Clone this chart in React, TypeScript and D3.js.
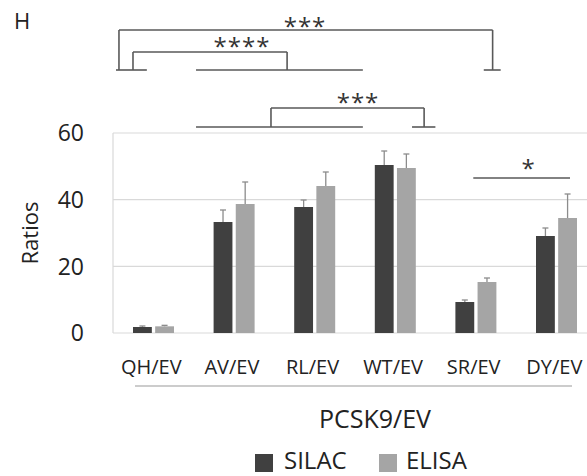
import React from "react";
import * as d3 from "d3";

const categories = ["QH/EV", "AV/EV", "RL/EV", "WT/EV", "SR/EV", "DY/EV"];
const series = ["SILAC", "ELISA"];
const silacValues = [1.8, 33.3, 37.8, 50.4, 9.3, 29.1];
const silacErrors = [0.3, 3.6, 2.1, 4.2, 0.6, 2.4];
const elisaValues = [2.0, 38.7, 44.1, 49.5, 15.3, 34.5];
const elisaErrors = [0.3, 6.6, 4.2, 4.2, 1.2, 7.2];
const yTicks = [0, 20, 40, 60];

const W = 587;
const H = 476;
const left = 113;
const step = 80.6;
const y0 = 333;
const top60 = 133;

export default function App() {
  const x = d3.scaleBand<string>().domain(categories).range([left, left + step * categories.length]).padding(0);
  const xs = d3.scaleBand<string>().domain(series).range([20, 61]).paddingInner(0.15);
  const y = d3.scaleLinear().domain([0, 60]).range([y0, top60]);
  const xi = d3.scaleLinear().domain([0, categories.length]).range([left, left + step * categories.length]);
  const colors: Record<string, string> = { SILAC: "#404040", ELISA: "#a5a5a5" };
  const vals: Record<string, number[]> = { SILAC: silacValues, ELISA: elisaValues };
  const errs: Record<string, number[]> = { SILAC: silacErrors, ELISA: elisaErrors };
  const font = "'Open Sans', 'Liberation Sans', sans-serif";
  const lc = "#595959";
  const sw = 1.6;

  const L = (x1: number, y1: number, x2: number, y2: number, k: string) => (
    <line key={k} x1={xi(x1)} y1={y(y1)} x2={xi(x2)} y2={y(y2)} stroke={lc} strokeWidth={sw} />
  );

  return (
    <svg width={W} height={H} style={{ position: "absolute", left: 0, top: 0, background: "#fff" }} fontFamily={font}>
      <rect width={W} height={H} fill="#fff" />
      <text x={14} y={29} fontSize={22} fill="#222">H</text>
      {/* gridlines */}
      {yTicks.map((t) => (
        <line key={t} x1={left} x2={W} y1={y(t)} y2={y(t)} stroke="#d9d9d9" strokeWidth={1.2} />
      ))}
      <line x1={left} x2={left} y1={y(60)} y2={y(0)} stroke="#d9d9d9" strokeWidth={1.2} />
      {yTicks.map((t) => (
        <text key={"t" + t} x={84} y={y(t)} dy="0.36em" textAnchor="end" fontSize={23} fill="#222">{t}</text>
      ))}
      <text transform={`translate(38,${y(30)}) rotate(-90)`} textAnchor="middle" fontSize={22} fill="#222">Ratios</text>
      {/* bars */}
      {categories.map((c, i) =>
        series.map((s) => {
          const bx = (x(c) as number) + (xs(s) as number);
          const bw = xs.bandwidth();
          const v = vals[s][i];
          const e = errs[s][i];
          const cx = bx + bw / 2;
          return (
            <g key={c + s}>
              <line x1={cx} x2={cx} y1={y(v)} y2={y(v + e)} stroke="#8c8c8c" strokeWidth={1.3} />
              <line x1={cx - 3} x2={cx + 3} y1={y(v + e)} y2={y(v + e)} stroke="#8c8c8c" strokeWidth={1.3} />
              <rect x={bx} y={y(v)} width={bw} height={y(0) - y(v)} fill={colors[s]} />
            </g>
          );
        })
      )}
      {/* category labels */}
      {categories.map((c) => (
        <text key={"c" + c} x={(x(c) as number) + x.bandwidth() / 2 - 2} y={367} dy="0.35em" textAnchor="middle" fontSize={20} fill="#222">{c}</text>
      ))}
      <line x1={135} x2={572} y1={386} y2={386} stroke="#999" strokeWidth={1.2} />
      <text x={375} y={419} dy="0.35em" textAnchor="middle" fontSize={25} fill="#222">PCSK9/EV</text>
      {/* legend */}
      <rect x={255} y={454} width={18} height={18} fill={colors.SILAC} />
      <text x={284} y={469} fontSize={24} fill="#222">SILAC</text>
      <rect x={379} y={454} width={18} height={18} fill={colors.ELISA} />
      <text x={406} y={469} fontSize={24} fill="#222">ELISA</text>
      {/* significance brackets */}
      {L(0.074, 90.9, 4.71, 90.9, "a1")}
      {L(0.074, 90.9, 0.074, 78.9, "a2")}
      {L(4.71, 90.9, 4.71, 78.9, "a3")}
      {L(4.6, 78.9, 4.81, 78.9, "a4")}
      {L(0.037, 78.9, 0.42, 78.9, "a5")}
      {L(0.248, 84.3, 2.16, 84.3, "b1")}
      {L(0.248, 84.3, 0.248, 78.9, "b2")}
      {L(2.16, 84.3, 2.16, 78.9, "b3")}
      {L(1.03, 78.9, 3.1, 78.9, "b4")}
      {L(1.96, 67.5, 3.86, 67.5, "c1")}
      {L(1.96, 67.5, 1.96, 61.8, "c2")}
      {L(3.86, 67.5, 3.86, 61.8, "c3")}
      {L(1.03, 61.8, 3.1, 61.8, "c4")}
      {L(3.71, 61.8, 4.0, 61.8, "c5")}
      {L(4.47, 46.5, 5.67, 46.5, "d1")}
      <text x={305} y={35} textAnchor="middle" fontSize={24} letterSpacing={1} fill="#333">***</text>
      <text x={242} y={55} textAnchor="middle" fontSize={24} letterSpacing={1} fill="#333">****</text>
      <text x={358} y={111} textAnchor="middle" fontSize={24} letterSpacing={1} fill="#333">***</text>
      <text x={528} y={177} textAnchor="middle" fontSize={24} fill="#333">*</text>
    </svg>
  );
}
